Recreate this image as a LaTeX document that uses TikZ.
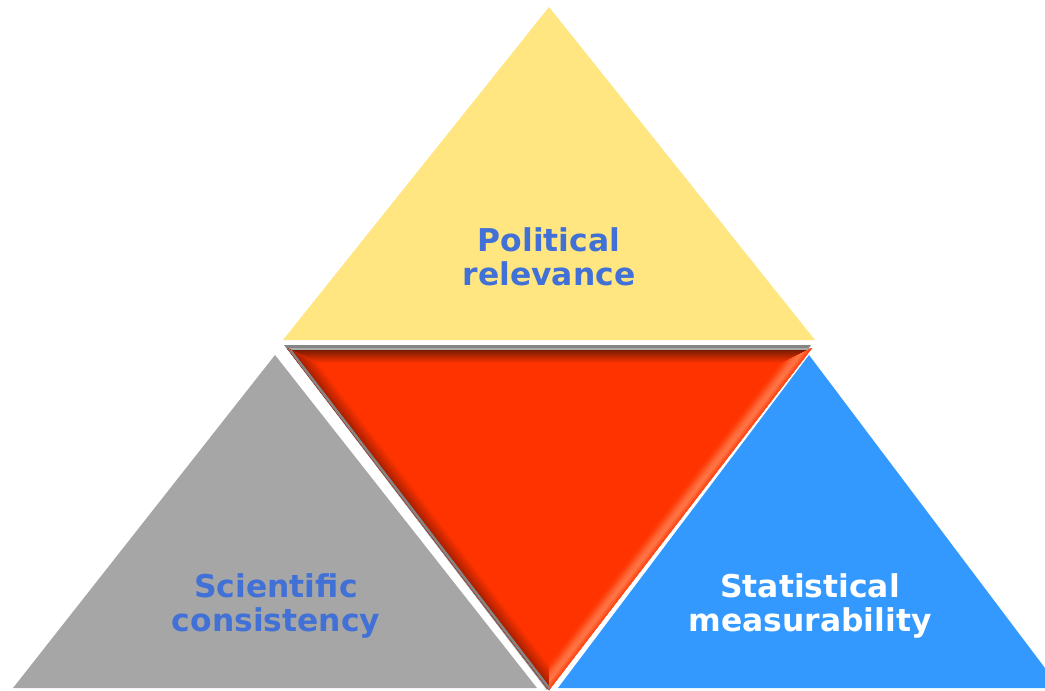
\documentclass[tikz,border=0pt]{standalone}
\usepackage{fontspec}
\setmainfont{DejaVu Sans}
\begin{document}
\begin{tikzpicture}[x=1bp,y=-1bp]
\definecolor{yel}{HTML}{FFE680}
\definecolor{grytri}{HTML}{A6A6A6}
\definecolor{blutri}{HTML}{3399FF}
\definecolor{redtri}{HTML}{FF3300}
\definecolor{topdark}{HTML}{7A1C02}
\definecolor{leftdark}{HTML}{A82000}
\definecolor{shadowgray}{HTML}{858585}
\definecolor{txtblue}{HTML}{4170D6}
\tikzset{
  lbl/.style={align=center, inner sep=0pt, font=\fontsize{31.5}{34}\selectfont\bfseries},
}
\useasboundingbox (0,0) rectangle (1045,691);
% coordinates
\coordinate (Y1) at (549,7);
\coordinate (Y2) at (283,340);
\coordinate (Y3) at (815,340);
\coordinate (G1) at (275,355);
\coordinate (G2) at (13,688);
\coordinate (G3) at (537,688);
\coordinate (B1) at (809,355);
\coordinate (B2) at (558,688);
\coordinate (B3) at (1060,688);
\coordinate (A) at (287,348);
\coordinate (B) at (812,348);
\coordinate (C) at (549,690);
\coordinate (I) at (549,477);
% outer triangles
\fill[yel] (Y1)--(Y2)--(Y3)--cycle;
\fill[grytri] (G1)--(G2)--(G3)--cycle;
\fill[blutri] (B1)--(B2)--(B3)--cycle;
% red triangle with shadow and bevel
\fill[shadowgray] ([shift={(-3,-3)}]A)--([shift={(-1,-3)}]B)--([shift={(-2,0)}]C)--cycle;
\fill[redtri] (A)--(B)--(C)--cycle;
\begin{scope}
  \clip (A)--(B)--(I)--cycle;
  \foreach \h in {18,17,...,1}{
    \pgfmathsetmacro\p{max(0,min(100,100*(\h-3)/13))}
    \draw[line width=2*\h bp, color=redtri!\p!topdark] (A)--(B);
  }
  \draw[line width=3bp, shadowgray!70!white] (A)--(B);
\end{scope}
\begin{scope}
  \clip (A)--(C)--(I)--cycle;
  \foreach \h in {18,17,...,1}{
    \pgfmathsetmacro\p{max(0,min(100,100*(\h-3)/13))}
    \draw[line width=2*\h bp, color=redtri!\p!leftdark] (A)--(C);
  }
  \draw[line width=5bp, shadowgray] (A)--(C);
\end{scope}
\begin{scope}
  \clip (B)--(C)--(I)--cycle;
  \foreach \h/\c in {18/FF3300,16/FF3A08,14/FF4510,12/FF5424,10/FF6434,8/FF7040,6/FF7444,4/FF6232,2/FF4A1A}{
    \definecolor{tmpc}{HTML}{\c}
    \draw[line width=2*\h bp, color=tmpc] (B)--(C);
  }
\end{scope}
% labels
\node[lbl, text=txtblue] (pol) at (549,257) {Political\\relevance};
\node[lbl, text=txtblue] (sci) at (276,606) {Scientific\\consistency};
\node[lbl, text=white] (sta) at (810,606) {Statistical\\measurability};
\end{tikzpicture}
\end{document}
